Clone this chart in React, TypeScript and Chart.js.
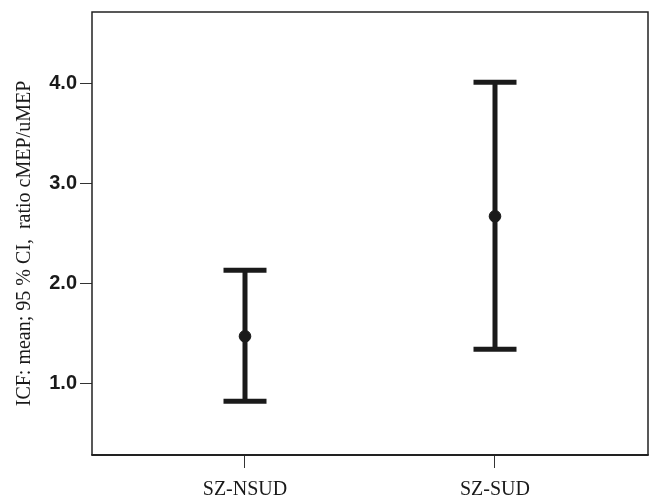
import React, { useEffect, useRef } from "react";
import { Chart, registerables } from "chart.js";

Chart.register(...registerables);

const categories: string[] = ["SZ-NSUD", "SZ-SUD"];
const means: number[] = [1.47, 2.67];
const lowerCI: number[] = [0.82, 1.34];
const upperCI: number[] = [2.13, 4.01];
const yTickValues: number[] = [1, 2, 3, 4];
const yTitle = "ICF: mean; 95 % CI,  ratio cMEP/uMEP";

const INK = "#1a1a1a";

const framePlugin = {
  id: "frame",
  afterDraw(chart: any) {
    const { ctx, chartArea } = chart;
    const { left, right, top, bottom } = chartArea;
    ctx.save();
    ctx.strokeStyle = "#222";
    ctx.lineWidth = 1.5;
    ctx.beginPath();
    ctx.moveTo(left, bottom);
    ctx.lineTo(left, top);
    ctx.lineTo(right, top);
    ctx.lineTo(right, bottom);
    ctx.stroke();
    ctx.lineWidth = 2;
    ctx.beginPath();
    ctx.moveTo(left - 0.75, bottom);
    ctx.lineTo(right + 0.75, bottom);
    ctx.stroke();
    ctx.restore();
  },
};

const zeroPadding = (scale: any) => {
  scale.paddingLeft = 0;
  scale.paddingRight = 0;
  scale.paddingTop = 0;
  scale.paddingBottom = 0;
};

export default function App() {
  const canvasRef = useRef<HTMLCanvasElement | null>(null);

  useEffect(() => {
    const canvas = canvasRef.current;
    if (!canvas) return;

    const errorSets = categories.map((_, i) => ({
      label: categories[i] + " CI",
      data: [
        { x: i, y: lowerCI[i] },
        { x: i, y: upperCI[i] },
      ],
      borderColor: INK,
      backgroundColor: INK,
      borderWidth: 5,
      showLine: true,
      pointStyle: "line",
      pointRadius: 21.5,
      pointBorderWidth: 5,
      pointBorderColor: INK,
      pointBackgroundColor: INK,
      pointHoverRadius: 21.5,
    }));

    const meanSet = {
      label: "mean",
      data: means.map((m, i) => ({ x: i, y: m })),
      showLine: false,
      borderColor: INK,
      backgroundColor: INK,
      pointStyle: "circle",
      pointRadius: 5.8,
      pointBorderWidth: 1,
      pointBorderColor: INK,
      pointBackgroundColor: INK,
    };

    const chart = new Chart(canvas, {
      type: "line",
      data: { datasets: [...errorSets, meanSet] as any },
      plugins: [framePlugin],
      options: {
        animation: false,
        responsive: false,
        maintainAspectRatio: false,
        layout: { autoPadding: false, padding: { top: 12, right: 1, left: 0, bottom: 0 } },
        plugins: {
          legend: { display: false },
          tooltip: { enabled: false },
        },
        scales: {
          x: {
            type: "linear",
            min: -0.612,
            max: 1.612,
            afterBuildTicks: (scale: any) => {
              scale.ticks = categories.map((_, i) => ({ value: i }));
            },
            afterFit: (scale: any) => {
              scale.height = 44;
              zeroPadding(scale);
            },
            ticks: {
              callback: (v: any) => categories[Number(v)] ?? "",
              color: INK,
              padding: 10,
              autoSkip: false,
              maxRotation: 0,
              font: { family: "'Liberation Serif', 'Times New Roman', serif", size: 20 },
            },
            grid: {
              display: true,
              drawOnChartArea: false,
              drawTicks: true,
              tickLength: 13,
              color: "#333",
              lineWidth: 1,
            },
            border: { display: false },
          },
          y: {
            type: "linear",
            min: 0.283,
            max: 4.713,
            afterBuildTicks: (scale: any) => {
              scale.ticks = yTickValues.map((v) => ({ value: v }));
            },
            afterFit: (scale: any) => {
              scale.width = 92;
              zeroPadding(scale);
            },
            ticks: {
              callback: (v: any) => Number(v).toFixed(1),
              color: INK,
              padding: 3,
              font: { family: "'Liberation Sans', Arial, sans-serif", size: 20, weight: "bold" },
            },
            grid: {
              display: true,
              drawOnChartArea: false,
              drawTicks: true,
              tickLength: 12,
              color: "#333",
              lineWidth: 1,
            },
            border: { display: false },
            title: {
              display: true,
              text: yTitle + "    ",
              color: INK,
              padding: { top: 13, bottom: 0 },
              font: { family: "'Liberation Serif', 'Times New Roman', serif", size: 20, weight: "normal" },
            },
          },
        },
      } as any,
    });

    return () => {
      chart.destroy();
    };
  }, []);

  return (
    <div style={{ position: "fixed", left: 0, top: 0, width: 649, height: 499, background: "#fff" }}>
      <canvas ref={canvasRef} width={649} height={499} style={{ display: "block", width: 649, height: 499 }} />
    </div>
  );
}
